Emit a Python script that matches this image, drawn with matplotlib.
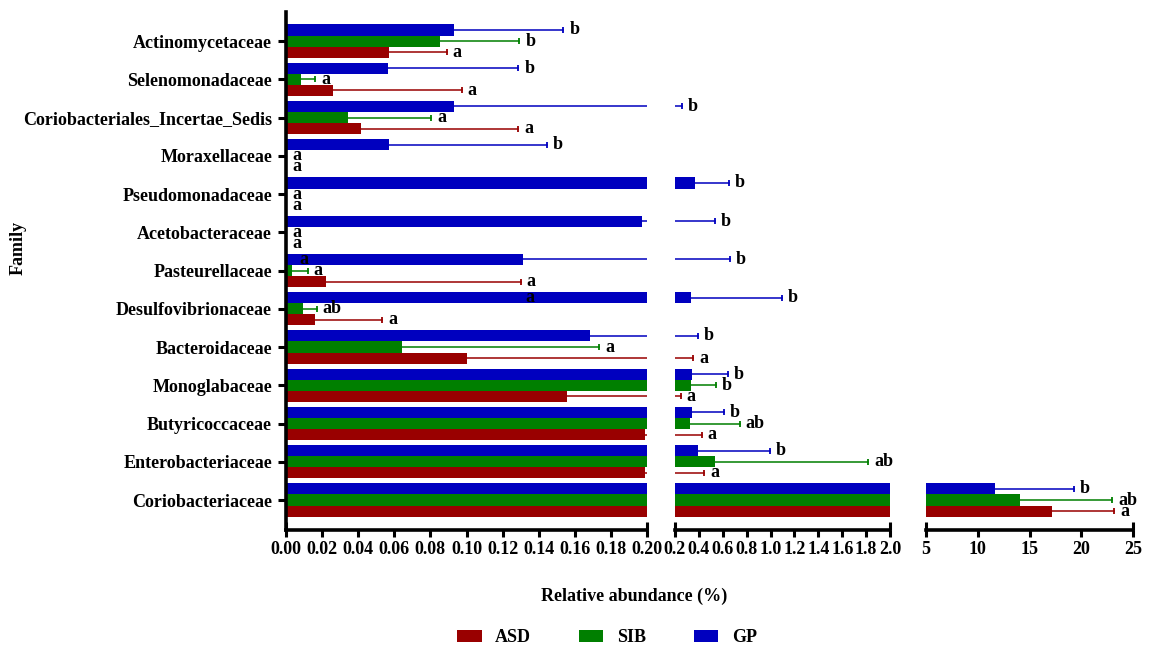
import matplotlib
matplotlib.use("Agg")
import matplotlib.pyplot as plt
from matplotlib.patches import Patch

plt.rcParams["font.family"] = ["Liberation Serif", "DejaVu Serif"]
plt.rcParams["font.weight"] = "bold"
plt.rcParams["axes.labelweight"] = "bold"

# Families, bottom to top
families = ["Coriobacteriaceae", "Enterobacteriaceae", "Butyricoccaceae", "Monoglabaceae",
            "Bacteroidaceae", "Desulfovibrionaceae", "Pasteurellaceae", "Acetobacteraceae",
            "Pseudomonadaceae", "Moraxellaceae", "Coriobacteriales_Incertae_Sedis",
            "Selenomonadaceae", "Actinomycetaceae"]

groups = ["ASD", "SIB", "GP"]

# Mean relative abundance (%)
asd_mean = [17.18, 0.199, 0.199, 0.1555, 0.1005, 0.0161, 0.0222, 0.0, 0.0, 0.0, 0.0414, 0.0262, 0.0572]
sib_mean = [14.10, 0.539, 0.325, 0.331, 0.0641, 0.0092, 0.0031, 0.0, 0.0, 0.0, 0.0342, 0.0081, 0.0853]
gp_mean = [11.63, 0.394, 0.339, 0.339, 0.1684, 0.331, 0.1315, 0.1974, 0.367, 0.0572, 0.0933, 0.0563, 0.0933]

# Error (one-sided)
asd_err = [5.99, 0.243, 0.223, 0.0915, 0.2525, 0.0371, 0.1078, 0.0, 0.0, 0.0, 0.0873, 0.0711, 0.0318]
sib_err = [8.90, 1.28, 0.417, 0.211, 0.1095, 0.0078, 0.0089, 0.0, 0.0, 0.0, 0.0461, 0.0080, 0.0440]
gp_err = [7.63, 0.598, 0.272, 0.305, 0.2256, 0.766, 0.5265, 0.3356, 0.286, 0.0872, 0.1627, 0.0724, 0.0604]

# Significance letters
asd_sig = ["a"] * 13
sib_sig = ["ab", "ab", "ab", "b", "a", "ab", "a", "a", "a", "a", "a", "a", "b"]
gp_sig = ["b"] * 13

# Additional letters printed over the GP bars
extra_family = ["Pasteurellaceae", "Desulfovibrionaceae"]
extra_x = [0.0074, 0.1324]
extra_text = ["a", "a"]

colors = {"ASD": "#990000", "SIB": "#007F00", "GP": "#0000BF"}
offsets = {"ASD": -0.29, "SIB": 0.0, "GP": 0.29}
bar_h = 0.29
FS = 13

means = {"ASD": asd_mean, "SIB": sib_mean, "GP": gp_mean}
errs = {"ASD": asd_err, "SIB": sib_err, "GP": gp_err}
sigs = {"ASD": asd_sig, "SIB": sib_sig, "GP": gp_sig}

W, H = 1155, 648
fig = plt.figure(figsize=(W / 100, H / 100), dpi=100)

bottom = 1 - 530 / H
height = (530 - 12) / H
segments = [
    (286, 647, (0.0, 0.20), [i * 0.02 for i in range(11)], "{:.2f}"),
    (675, 890, (0.2, 2.0), [0.2 * i for i in range(1, 11)], "{:.1f}"),
    (926, 1133, (5, 25), [5, 10, 15, 20, 25], "{:d}"),
]

axes = []
for x0, x1, lim, ticks, fmt in segments:
    ax = fig.add_axes([x0 / W, bottom, (x1 - x0) / W, height])
    ax.set_xlim(*lim)
    ax.set_ylim(-0.784, 12.76)
    ax.set_xticks(ticks)
    ax.set_xticklabels([fmt.format(t) for t in ticks], fontsize=FS, fontweight="bold")
    for s in ["top", "right"]:
        ax.spines[s].set_visible(False)
    ax.spines["bottom"].set_linewidth(2.6)
    ax.spines["left"].set_linewidth(2.6)
    ax.tick_params(axis="x", direction="out", length=5, width=2.2, pad=3)
    ax.tick_params(axis="y", direction="out", length=6, width=2.2, pad=4)
    # caps at both ends of the axis line
    for xe in lim:
        ax.plot([xe, xe], [0, 0.016], transform=ax.get_xaxis_transform(),
                color="black", lw=2.2, clip_on=False, solid_capstyle="butt")
    axes.append(ax)

ax1, ax2, ax3 = axes
ax1.set_yticks(range(len(families)))
ax1.set_yticklabels(families, fontsize=FS, fontweight="bold")
for ax in (ax2, ax3):
    ax.spines["left"].set_visible(False)
    ax.set_yticks([])

ypos = list(range(len(families)))

for ax in axes:
    for g in groups:
        y = [p + offsets[g] for p in ypos]
        ax.barh(y, means[g], height=bar_h, color=colors[g], edgecolor="none", zorder=2)
        for yi, m, e in zip(y, means[g], errs[g]):
            if e <= 0:
                continue
            # one-sided error line with a cap at its outer end only
            ax.plot([m, m + e], [yi, yi], color=colors[g], lw=1.1, zorder=3)
            ax.plot([m + e], [yi], marker="|", markersize=5, markeredgewidth=1.3,
                    color=colors[g], zorder=3)


def seg_for(v):
    if v <= 0.2:
        return ax1
    if v <= 2.0:
        return ax2
    return ax3


for g in groups:
    for p, m, e, s in zip(ypos, means[g], errs[g], sigs[g]):
        end = m + e
        ax = seg_for(end)
        ax.annotate(s, (end, p + offsets[g]), xytext=(4.3, 0), textcoords="offset points",
                    ha="left", va="center", fontsize=FS, fontweight="bold",
                    annotation_clip=False, zorder=4)

for fam, xv, t in zip(extra_family, extra_x, extra_text):
    p = families.index(fam)
    ax1.text(xv, p + offsets["GP"], t, ha="left", va="center", fontsize=FS,
             fontweight="bold", zorder=4)

fig.text(634 / W, 1 - 596 / H, "Relative abundance (%)", ha="center", va="center",
         fontsize=FS, fontweight="bold")
fig.text(18 / W, 1 - 248 / H, "Family", ha="center", va="center", rotation=90,
         fontsize=FS, fontweight="bold")

handles = [Patch(facecolor=colors[g], edgecolor="none", label=g) for g in groups]
fig.legend(handles=handles, loc="center", bbox_to_anchor=(607 / W, 1 - 638 / H), ncol=3,
           frameon=False, fontsize=FS, handlelength=1.35, handleheight=0.65,
           handletextpad=0.75, columnspacing=2.65)

fig.savefig("out.png", dpi=100)
